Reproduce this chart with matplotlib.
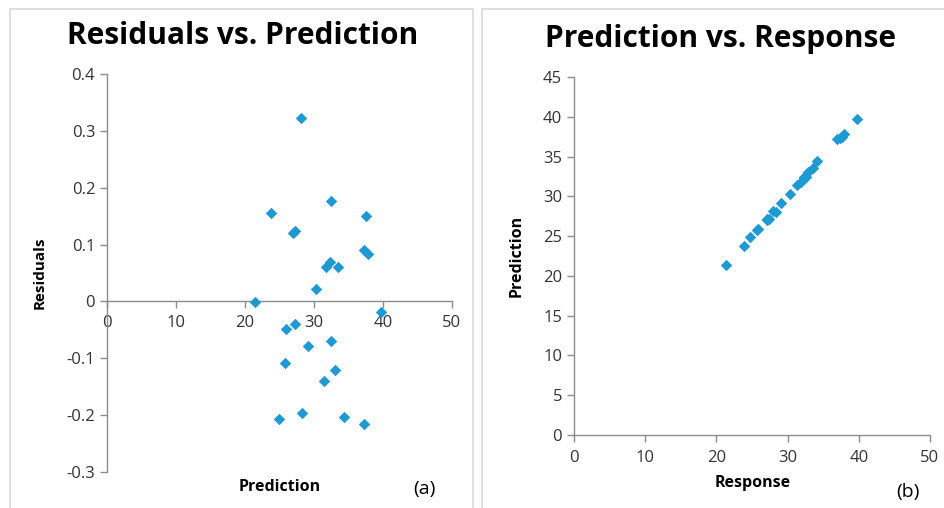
import numpy as np
import matplotlib.pyplot as plt
from matplotlib.patches import Rectangle

# predicted values and their residuals
prediction = [28.05, 23.7, 32.4, 37.5, 27.2, 27.0, 37.3, 37.8, 32.3, 31.8, 33.5, 30.3,
              21.4, 39.7, 27.2, 25.9, 32.4, 29.1, 25.8, 33.0, 31.4, 24.9, 28.2, 34.4, 37.2]
residuals = [0.323, 0.155, 0.177, 0.151, 0.124, 0.121, 0.090, 0.084, 0.069, 0.060, 0.060, 0.022,
             -0.001, -0.019, -0.040, -0.048, -0.069, -0.078, -0.108, -0.120, -0.140, -0.206,
             -0.197, -0.203, -0.216]
response = np.array(prediction) + np.array(residuals)

xticks = [0, 10, 20, 30, 40, 50]
res_ticks = [-0.3, -0.2, -0.1, 0, 0.1, 0.2, 0.3, 0.4]
pred_ticks = [0, 5, 10, 15, 20, 25, 30, 35, 40, 45]

blue = '#1b9ad6'
axis_col = '#8c8c8c'
tick_col = '#333333'
plt.rcParams['font.family'] = ['Open Sans', 'DejaVu Sans']

fig = plt.figure(figsize=(9.45, 5.08), dpi=100)

# panel frames
fig.patches.append(Rectangle((10 / 945, -0.1), 463 / 945, 1.1 - 9 / 508, transform=fig.transFigure,
                             fill=False, edgecolor='#d9d9d9', linewidth=1.2))
fig.patches.append(Rectangle((482 / 945, -0.1), 470 / 945, 1.1 - 9 / 508, transform=fig.transFigure,
                             fill=False, edgecolor='#d9d9d9', linewidth=1.2))


def style(ax):
    for s in ['top', 'right']:
        ax.spines[s].set_visible(False)
    for s in ['left', 'bottom']:
        ax.spines[s].set_color(axis_col)
        ax.spines[s].set_linewidth(1.0)
    ax.tick_params(colors=axis_col, labelcolor=tick_col, labelsize=12, length=5, width=1)


# (a) residuals vs prediction
ax1 = fig.add_axes([107 / 945, 1 - 472 / 508, 345 / 945, 398 / 508])
ax1.scatter(prediction, residuals, marker='D', s=34, color=blue, linewidths=0, zorder=3)
ax1.set_xlim(0, 50)
ax1.set_ylim(-0.3, 0.4)
ax1.set_xticks(xticks)
ax1.set_yticks(res_ticks)
ax1.set_yticklabels(['-0.3', '-0.2', '-0.1', '0', '0.1', '0.2', '0.3', '0.4'])
style(ax1)
ax1.spines['bottom'].set_position(('data', 0))
ax1.tick_params(axis='x', pad=5)
fig.text(243 / 945, 1 - 36 / 508, 'Residuals vs. Prediction', ha='center', va='center',
         fontsize=21.5, fontweight='bold')
fig.text(40 / 945, 1 - 273 / 508, 'Residuals', rotation=90, ha='center', va='center',
         fontsize=11, fontweight='bold')
fig.text(280 / 945, 1 - 487 / 508, 'Prediction', ha='center', va='center',
         fontsize=11.5, fontweight='bold')
fig.text(424 / 945, 1 - 489 / 508, '(a)', ha='center', va='center', fontsize=14)

# (b) prediction vs response
ax2 = fig.add_axes([574 / 945, 1 - 435 / 508, 356 / 945, 358 / 508])
ax2.scatter(response, prediction, marker='D', s=34, color=blue, linewidths=0, zorder=3)
ax2.set_xlim(0, 50)
ax2.set_ylim(0, 45)
ax2.set_xticks(xticks)
ax2.set_yticks(pred_ticks)
style(ax2)
ax2.tick_params(axis='x', pad=6)
fig.text(721 / 945, 1 - 39 / 508, 'Prediction vs. Response', ha='center', va='center',
         fontsize=21.5, fontweight='bold')
fig.text(517 / 945, 1 - 256 / 508, 'Prediction', rotation=90, ha='center', va='center',
         fontsize=11.5, fontweight='bold')
fig.text(753 / 945, 1 - 483 / 508, 'Response', ha='center', va='center',
         fontsize=11.5, fontweight='bold')
fig.text(908 / 945, 1 - 492 / 508, '(b)', ha='center', va='center', fontsize=14)

fig.savefig('out.png', dpi=100)
